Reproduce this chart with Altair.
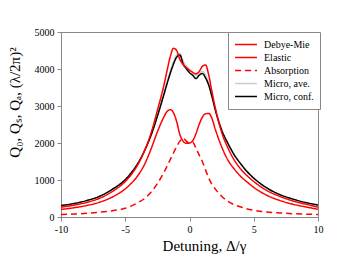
import altair as alt
import pandas as pd

detuning = [-10, -9, -8, -7, -6, -5, -4.5, -4, -3.5, -3, -2.5, -2, -1.75, -1.5, -1.25, -1,
            -0.75, -0.5, -0.25, 0, 0.25, 0.5, 0.75, 1, 1.25, 1.5, 1.75, 2, 2.5, 3, 3.5, 4,
            4.5, 5, 6, 7, 8, 9, 10]

debye_mie = [265, 320, 395, 505, 690, 960, 1160, 1430, 1790, 2260, 2880, 3550, 3950, 4330, 4560, 4500,
             4260, 4120, 4040, 3970, 3910, 3870, 3930, 4070, 4110, 3830, 3380, 2960, 2290, 1860, 1530, 1290,
             1110, 960, 720, 560, 440, 350, 265]

elastic = [205, 250, 310, 400, 540, 760, 920, 1130, 1420, 1830, 2300, 2700, 2850, 2900, 2820, 2580,
           2230, 2050, 1990, 2000, 2060, 2250, 2500, 2700, 2790, 2800, 2660, 2380, 1900, 1530, 1290, 1090,
           940, 800, 590, 450, 350, 275, 210]

absorption = [65, 80, 100, 130, 170, 235, 300, 390, 500, 670, 900, 1200, 1370, 1550, 1730, 1900,
              2050, 2130, 2050, 2000, 2020, 1860, 1680, 1500, 1270, 1050, 880, 760, 560, 420, 330, 270,
              215, 180, 135, 110, 90, 78, 68]

micro_ave = [300, 360, 440, 560, 750, 1010, 1210, 1470, 1800, 2220, 2750, 3340, 3650, 3930, 4190, 4380,
             4420, 4220, 4080, 3980, 3900, 3830, 3880, 3940, 3830, 3600, 3290, 2940, 2380, 1990, 1680, 1440,
             1230, 1060, 790, 610, 485, 390, 320]

micro_conf = [310, 365, 445, 560, 750, 1010, 1210, 1460, 1790, 2200, 2720, 3300, 3600, 3880, 4130, 4320,
              4380, 4140, 4010, 3900, 3830, 3740, 3830, 3880, 3760, 3560, 3250, 2900, 2350, 1980, 1670, 1430,
              1220, 1050, 790, 610, 490, 395, 325]

series_names = ["Debye-Mie", "Elastic", "Absorption", "Micro, ave.", "Micro, conf."]
series_values = [debye_mie, elastic, absorption, micro_ave, micro_conf]
series_colors = ["#ff0000", "#ff0000", "#ff0000", "#cccccc", "#000000"]
series_dash = [[1, 0], [1, 0], [6, 4], [1, 0], [1, 0]]

x_ticks = [-10, -5, 0, 5, 10]
y_ticks = [0, 1000, 2000, 3000, 4000, 5000]

rows = []
for name, vals in zip(series_names, series_values):
    for d, v in zip(detuning, vals):
        rows.append({"det": d, "val": v, "series": name})
df = pd.DataFrame(rows)

font = "Liberation Serif"

base = alt.Chart(df).mark_line(interpolate="monotone", strokeWidth=1.5).encode(
    x=alt.X("det:Q", scale=alt.Scale(domain=[-10, 10], nice=False),
            axis=alt.Axis(values=x_ticks, title="Detuning, Δ/γ", titleX=143, titleY=33,
                          titleBaseline="alphabetic", titleAlign="center", labelFlush=False,
                          labelExpr="'' + datum.value", labelFont=font, titleFont=font)),
    y=alt.Y("val:Q", scale=alt.Scale(domain=[0, 5000], nice=False),
            axis=alt.Axis(values=y_ticks, title="Q₀, Qₛ, Qₐ, (λ/2π)²", titleX=-42, titleY=70,
                          titleAngle=270, titleAlign="center", titleBaseline="alphabetic",
                          labelFlush=False,
                          labelExpr="'' + datum.value", labelFont=font, titleFont=font)),
    color=alt.Color("series:N", scale=alt.Scale(domain=series_names, range=series_colors),
                    legend=alt.Legend(title=None, orient="none", legendX=167, legendY=0)),
    strokeDash=alt.StrokeDash("series:N", scale=alt.Scale(domain=series_names, range=series_dash),
                              legend=alt.Legend(title=None, orient="none", legendX=167, legendY=0)),
)

order = ["Micro, ave.", "Micro, conf.", "Absorption", "Elastic", "Debye-Mie"]
layers = [base.transform_filter(alt.datum.series == s) for s in order]

chart = alt.layer(*layers).properties(
    width=257, height=185,
    autosize=alt.AutoSizeParams(type="none"),
    padding={"left": 53, "top": 24, "right": 28, "bottom": 40},
).configure(
    font=font
).configure_view(
    stroke="#888888", strokeWidth=1
).configure_axis(
    grid=False, domainColor="#888888", tickColor="#888888", tickSize=4, domainWidth=1,
    labelFont=font, labelFontSize=10, labelColor="#000000", labelPadding=3,
    titleFont=font, titleFontSize=15, titleFontWeight="normal", titleColor="#000000",
).configure_legend(
    labelFont=font, labelFontSize=10, labelColor="#000000", symbolType="stroke",
    symbolSize=480, symbolStrokeWidth=1.5, clipHeight=13, rowPadding=0,
    strokeColor="#888888", fillColor="#ffffff", padding=6, labelOffset=6,
)

chart.save("out.html", embed_options={"renderer": "svg", "actions": False})
